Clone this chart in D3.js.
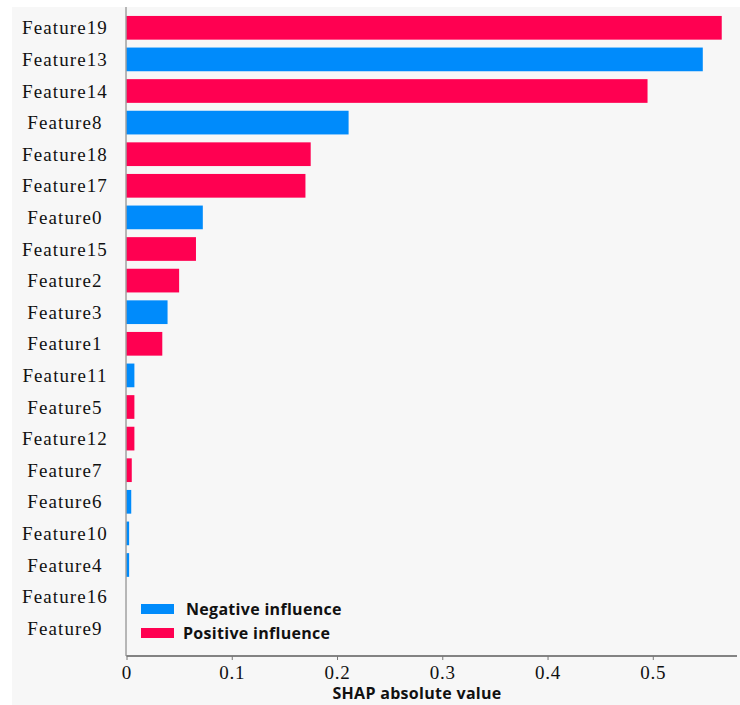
<!DOCTYPE html>
<html>
<head>
<meta charset="utf-8">
<script src="https://cdn.jsdelivr.net/npm/d3@7"></script>
<style>
  html, body { margin: 0; padding: 0; background: #ffffff; }
  svg { display: block; }
</style>
</head>
<body>
<svg id="chart" width="740" height="705"></svg>
<script>
// Features ordered top to bottom by mean |SHAP|
const features = ["Feature19","Feature13","Feature14","Feature8","Feature18","Feature17",
  "Feature0","Feature15","Feature2","Feature3","Feature1","Feature11","Feature5",
  "Feature12","Feature7","Feature6","Feature10","Feature4","Feature16","Feature9"];
const shapValues = [0.5655, 0.5475, 0.495, 0.211, 0.175, 0.170,
  0.0725, 0.066, 0.050, 0.039, 0.034, 0.0075, 0.0075,
  0.0075, 0.005, 0.0045, 0.0025, 0.0025, 0, 0];
// direction of influence: "neg" or "pos"
const influence = ["pos","neg","pos","neg","pos","pos",
  "neg","pos","pos","neg","pos","neg","pos",
  "pos","pos","neg","neg","neg","neg","pos"];
const xTicks = [0, 0.1, 0.2, 0.3, 0.4, 0.5];
const legendLabels = ["Negative influence", "Positive influence"];

const colors = { neg: "#008bfb", pos: "#ff0051" };

const svg = d3.select("#chart");
const W = 740, H = 705;

// panel background
svg.append("rect").attr("x", 12).attr("y", 7).attr("width", W - 12).attr("height", H - 7)
  .attr("fill", "#f7f7f7");

const x = d3.scaleLinear().domain([0, 0.58]).range([126.5, 737]);
const y = d3.scaleBand().domain(features).range([12, 644]).paddingInner(0.25).paddingOuter(0.125);

const rows = features.map((f, i) => ({ f, v: shapValues[i], s: influence[i] }));

svg.append("g").selectAll("rect").data(rows).join("rect")
  .attr("x", x(0))
  .attr("y", d => y(d.f))
  .attr("width", d => Math.max(0, x(d.v) - x(0)))
  .attr("height", y.bandwidth())
  .attr("fill", d => colors[d.s]);

// feature labels, centered in the left margin
svg.append("g").selectAll("text").data(features).join("text")
  .attr("x", 65)
  .attr("y", d => y(d) + y.bandwidth() / 2)
  .attr("dy", "0.35em")
  .attr("text-anchor", "middle")
  .attr("font-family", "'Liberation Serif', 'Times New Roman', serif")
  .attr("font-size", 19)
  .attr("letter-spacing", 1.1)
  .attr("fill", "#111")
  .text(d => d);

// left spine
svg.append("line").attr("x1", 126).attr("x2", 126).attr("y1", 7).attr("y2", 656)
  .attr("stroke", "#777").attr("stroke-width", 1);

// x axis
const xAxis = d3.axisBottom(x).tickValues(xTicks).tickSize(4).tickPadding(6)
  .tickFormat(d => d === 0 ? "0" : d3.format(".1f")(d));
const gx = svg.append("g").attr("transform", "translate(0,656)").call(xAxis);
gx.select(".domain").attr("d", `M${x(0)},0H737`).attr("stroke", "#111").attr("stroke-width", 1.2);
gx.selectAll(".tick line").attr("stroke", "#777");
gx.selectAll(".tick text")
  .attr("font-family", "'Liberation Serif', 'Times New Roman', serif")
  .attr("font-size", 19).attr("letter-spacing", 0.8).attr("fill", "#111");

svg.append("text")
  .attr("x", 417).attr("y", 699)
  .attr("text-anchor", "middle")
  .attr("font-family", "'Open Sans', 'Noto Sans', sans-serif")
  .attr("font-weight", 700).attr("font-size", 16).attr("letter-spacing", 0.3).attr("fill", "#111")
  .text("SHAP absolute value");

// legend
const legend = svg.append("g");
const legendKeys = ["neg", "pos"];
legendKeys.forEach((k, i) => {
  const ly = 604 + i * 24;
  legend.append("rect").attr("x", 141).attr("y", ly).attr("width", 33).attr("height", 10)
    .attr("fill", colors[k]);
  legend.append("text").attr("x", i === 0 ? 186 : 183).attr("y", ly + 5).attr("dy", "0.35em")
    .attr("font-family", "'Open Sans', 'Noto Sans', sans-serif")
    .attr("font-weight", 700).attr("font-size", 16).attr("letter-spacing", 0.3).attr("fill", "#111")
    .text(legendLabels[i]);
});
</script>
</body>
</html>
